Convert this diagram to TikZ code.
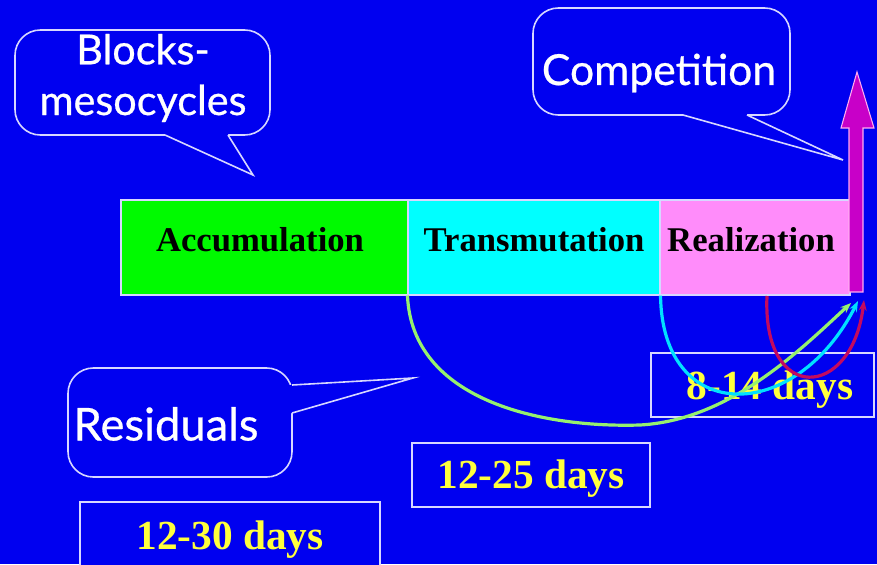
\documentclass[tikz,border=0pt]{standalone}
\usepackage{fontspec}
\setmainfont{Liberation Serif}
\newfontfamily\callfont[FakeBold=0.6]{Lato}
\usetikzlibrary{arrows.meta}
\definecolor{bg}{RGB}{0,0,240}
\definecolor{accg}{RGB}{0,250,0}
\definecolor{trc}{RGB}{0,255,255}
\definecolor{rlp}{RGB}{255,140,250}
\definecolor{magbar}{RGB}{200,0,200}
\definecolor{magedge}{RGB}{255,170,240}
\definecolor{edge}{RGB}{215,215,255}
\definecolor{yel}{RGB}{255,255,60}
\definecolor{gcurve}{RGB}{150,240,110}
\definecolor{ccurve}{RGB}{0,225,255}
\definecolor{rcurve}{RGB}{195,10,95}
\tikzset{
  block/.style={draw=edge, line width=0.8pt, inner sep=0pt, minimum height=71.25pt},
  blabel/.style={font=\bfseries\fontsize{26}{28}\selectfont, text=black, inner sep=0pt},
  daybox/.style={draw=edge, line width=0.8pt, fill=bg, inner sep=0pt, minimum height=48pt},
  daytext/.style={font=\bfseries\fontsize{31}{33}\selectfont, text=yel, inner sep=0pt},
  callbox/.style={draw=edge, line width=1.2pt, fill=bg, rounded corners=19pt},
  calltail/.style={draw=edge, line width=1.2pt},
  calltext/.style={font=\callfont\fontsize{32}{38}\selectfont, text=white, inner sep=0pt, align=center},
  flow/.style={line width=2.4pt, -{Stealth[length=8pt,width=6pt]}}
}
\begin{document}
\begin{tikzpicture}[x=0.75pt,y=-0.75pt]
\fill[bg] (0,0) rectangle (877,564);
\useasboundingbox (0,0) rectangle (877,564);

% blocks
\node[block, fill=accg, minimum width=215.25pt] (acc) at (264.5,247.5) {};
\node[block, fill=trc, minimum width=189pt] (tra) at (534,247.5) {};
\node[block, fill=rlp, minimum width=142.5pt] (rea) at (755,247.5) {};
\node[blabel] (accl) at (260,240) {Accumulation};
\node[blabel] (tral) at (534,240) {Transmutation};
\node[blabel] (real) at (751,240) {Realization};

% magenta arrow
\filldraw[fill=magbar, draw=magedge, line width=0.8pt] (849,292) -- (849,128) -- (841,128) -- (857,72) -- (874,128) -- (863,128) -- (863,292) -- cycle;

% day boxes
\node[daybox, minimum width=167.25pt] (d814) at (762.5,385) {};
\node[daytext] (d814t) at (770,390) {8-14 days};
\node[daybox, minimum width=178.5pt] (d1225) at (531,475) {};
\node[daytext] (d1225t) at (531,479) {12-25 days};
\node[daybox, minimum width=225pt, minimum height=58.5pt] (d1230) at (230,541) {};
\node[daytext] (d1230t) at (230,540) {12-30 days};

% callouts
\draw[callbox] (533,8) rectangle (790,115);
\fill[bg] (683,110) -- (683,115) -- (843,160) -- (747,115) -- (747,110) -- cycle;
\draw[calltail] (683,115) -- (843,160) -- (747,115);
\node[calltext] (comp) at (659,73) {Competition};

\draw[callbox] (15,30) rectangle (270,135);
\fill[bg] (165,130) -- (165,135) -- (253,175) -- (228,135) -- (228,130) -- cycle;
\draw[calltail] (165,135) -- (253,175) -- (228,135);
\node[calltext, font=\callfont\fontsize{31}{38}\selectfont] (blk) at (143,78) {Blocks-\\mesocycles};

\draw[callbox] (68,368) rectangle (292,477);
\fill[bg] (287,385) -- (292,385) -- (413,378) -- (292,413) -- (287,413) -- cycle;
\draw[calltail] (292,385) -- (413,378) -- (292,413);
\node[calltext, font=\callfont\fontsize{34}{38}\selectfont] (res) at (166,424) {Residuals};

% flow curves
\coordinate (tipG) at (851,303);
\coordinate (tipC) at (858,301);
\coordinate (tipR) at (864,300);
\draw[flow, gcurve] (tra.south west) .. controls (412,400) and (540,428) .. (640,425) .. controls (730,420) and (800,350) .. (tipG);
\draw[flow, ccurve] (tra.south east) .. controls (662,425) and (795,425) .. (tipC);
\coordinate (rstart) at (767,296);
\draw[flow, rcurve] (rstart) .. controls (762,405) and (852,400) .. (tipR);
\end{tikzpicture}
\end{document}
